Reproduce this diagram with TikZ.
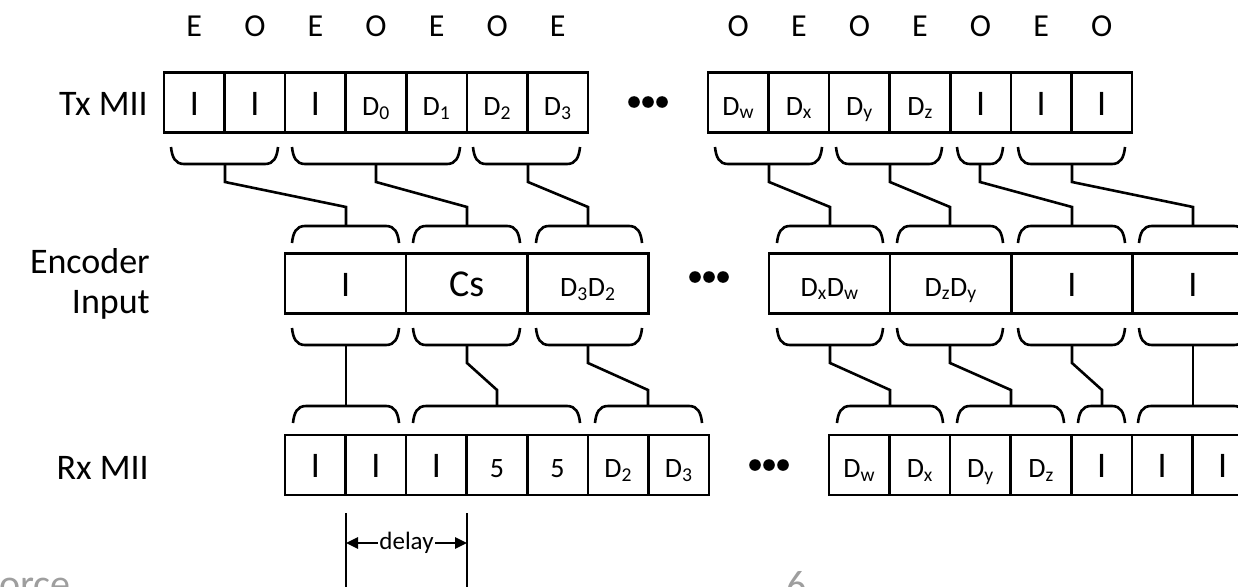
\documentclass[tikz,border=0pt]{standalone}
\usepackage{fontspec}
\setmainfont{Carlito}
\usetikzlibrary{arrows.meta,calc}
\newcommand\BrDn[3]{% x1 x2 ytop : opening upward, flat at bottom
 \draw[ln] (#1,#3) .. controls ({#1+1},{#3+10}) and ({#1+4},{#3+17}) .. ({#1+13},{#3+17}) -- ({#2-13},{#3+17}) .. controls ({#2-4},{#3+17}) and ({#2-1},{#3+10}) .. (#2,#3);}
\newcommand\BrUp[3]{% x1 x2 yend : flat at top
 \draw[ln] (#1,#3) .. controls ({#1+1},{#3-10}) and ({#1+4},{#3-17}) .. ({#1+13},{#3-17}) -- ({#2-13},{#3-17}) .. controls ({#2-4},{#3-17}) and ({#2-1},{#3-10}) .. (#2,#3);}
\begin{document}
\begin{tikzpicture}[x=1pt,y=-1pt,
  ln/.style={line width=2.6pt},
  cell/.style={draw,line width=2.6pt,minimum width=60.57pt,minimum height=60pt,inner sep=0pt,text height=25pt,text depth=0pt,font=\fontsize{36}{40}\selectfont},
  dcell/.style={cell,font=\fontsize{28}{32}\selectfont},
  ecell/.style={cell,minimum width=121.14pt},
  edcell/.style={ecell,font=\fontsize{28}{32}\selectfont},
  lbl/.style={font=\fontsize{36}{42}\selectfont,inner sep=0pt},
  eo/.style={font=\fontsize{32}{36}\selectfont,anchor=base,inner sep=0pt},
  conn/.style={line width=2.6pt,line join=miter},
  foot/.style={font=\fontsize{40}{44}\selectfont,text=black!38,inner sep=0pt},
]
\fill[white] (0,0) rectangle (1238,586);
\useasboundingbox (0,0) rectangle (1238,586);

% ---- E / O labels
\foreach \i/\t in {1/E,2/O,3/E,4/O,5/E,6/O,7/E}
  \node[eo] (eol\i) at ({164+(\i-0.5)*60.57},37) {\t};
\foreach \i/\t in {1/O,2/E,3/O,4/E,5/O,6/E,7/O}
  \node[eo] (eor\i) at ({708+(\i-0.5)*60.57},37) {\t};

% ---- row labels
\node[lbl,anchor=base east] (txl) at (148,115) {Tx MII};
\node[lbl,anchor=base east] (enl1) at (150,273) {Encoder};
\node[lbl,anchor=base east] (enl2) at (150,313) {Input};
\node[lbl,anchor=base east] (rxl) at (149,479) {Rx MII};

% ---- Tx MII cells
\foreach \i/\s/\t in {1/cell/I,2/cell/I,3/cell/I,4/dcell/D\textsubscript{0},5/dcell/D\textsubscript{1},6/dcell/D\textsubscript{2},7/dcell/D\textsubscript{3}}
  \node[\s] (tx\i) at ({164+(\i-0.5)*60.57},102.5) {\t};
\foreach \i/\s/\t in {1/dcell/D\textsubscript{w},2/dcell/D\textsubscript{x},3/dcell/D\textsubscript{y},4/dcell/D\textsubscript{z},5/cell/I,6/cell/I,7/cell/I}
  \node[\s] (txr\i) at ({708+(\i-0.5)*60.57},102.5) {\t};

% ---- Encoder cells
\node[ecell] (en1) at (345.6,283.5) {I};
\node[ecell,font=\fontsize{38}{42}\selectfont] (en2) at (466.7,283.5) {Cs};
\node[edcell] (en3) at (587.8,283.5) {D\textsubscript{3}D\textsubscript{2}};
\node[edcell] (enr1) at (829.6,283.5) {D\textsubscript{x}D\textsubscript{w}};
\node[edcell] (enr2) at (950.7,283.5) {D\textsubscript{z}D\textsubscript{y}};
\node[ecell] (enr3) at (1071.9,283.5) {I};
\node[ecell] (enr4) at (1193.0,283.5) {I};

% ---- Rx MII cells
\foreach \i/\s/\t in {1/cell/I,2/cell/I,3/cell/I,4/dcell/5,5/dcell/5,6/dcell/D\textsubscript{2},7/dcell/D\textsubscript{3}}
  \node[\s] (rx\i) at ({285+(\i-0.5)*60.57},465) {\t};
\foreach \i/\s/\t in {1/dcell/D\textsubscript{w},2/dcell/D\textsubscript{x},3/dcell/D\textsubscript{y},4/dcell/D\textsubscript{z},5/cell/I,6/cell/I,7/cell/I}
  \node[\s] (rxr\i) at ({829+(\i-0.5)*60.57},465) {\t};

% ---- ellipsis dots
\foreach \cx/\cy in {628/102,689/277,749/465}
  \foreach \d in {6,20,34}
    \fill ({\cx+\d},\cy) circle[radius=5.8];

% ---- braces under Tx
\BrDn{171}{278}{147} \BrDn{292}{460}{147} \BrDn{473}{580}{147}
\BrDn{715}{822}{147} \BrDn{836}{942}{147} \BrDn{957}{1003}{147} \BrDn{1018}{1125}{147}
% ---- braces above / below encoder
\foreach \a/\b in {292/399,413/520,536/642,777/883,897/1003,1018/1125,1139/1247}{
  \BrUp{\a}{\b}{243}
  \BrDn{\a}{\b}{328}
}
% ---- braces above Rx
\BrUp{293}{399}{423} \BrUp{413}{580}{423} \BrUp{595}{702}{423}
\BrUp{837}{943}{423} \BrUp{957}{1064}{423} \BrUp{1078}{1125}{423} \BrUp{1138}{1247}{423}

% ---- stem coordinates
\foreach \n/\x in {1/225,2/376,3/528,4/769,5/890,6/980,7/1072}
  \coordinate (ts\n) at (\x,164);
\foreach \n/\x in {1/346,2/467,3/588,4/830,5/950,6/1072,7/1193}{
  \coordinate (et\n) at (\x,225);
  \coordinate (eb\n) at (\x,346);
}
\foreach \n/\x in {1/346,2/497,3/648,4/890,5/1011,6/1102,7/1193}
  \coordinate (rt\n) at (\x,406);

% ---- connectors Tx -> Encoder -> Rx
\foreach \n in {1,...,7}{
  \draw[conn] (ts\n) -- ++(0,18) -- ([yshift=18pt]et\n) -- (et\n);
  \draw[conn] (eb\n) -- ++(0,17) -- ([yshift=16pt]rt\n) -- (rt\n);
}

% ---- delay marker
\coordinate (dL) at (346,513);
\coordinate (dR) at (467,513);
\draw[ln] (dL) -- ++(0,90);
\draw[ln] (dR) -- ++(0,90);
\node[font=\fontsize{25}{28}\selectfont,inner sep=1.5pt] (delay) at (406.5,543) {delay};
\draw[ln,-{Triangle[length=12pt,width=11pt]}] (delay.west) -- (delay.west -| dL);
\draw[ln,-{Triangle[length=12pt,width=11pt]}] (delay.east) -- (delay.east -| dR);

% ---- footer remnants
\node[foot,anchor=base west] (ft) at (-1,597) {orce};
\node[foot,anchor=base] (pg) at (797,598) {6};
\end{tikzpicture}
\end{document}
